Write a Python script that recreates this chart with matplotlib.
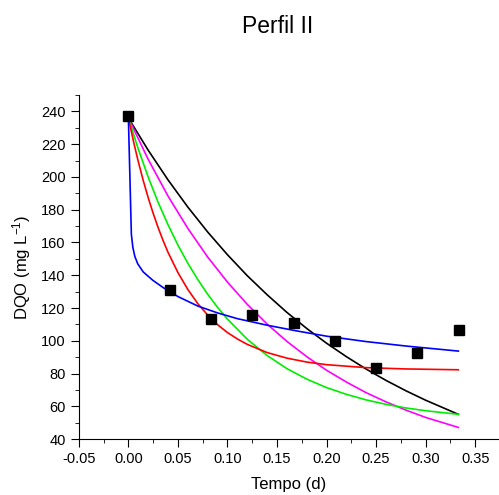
import matplotlib
matplotlib.use("Agg")
import matplotlib.pyplot as plt
from matplotlib.ticker import MultipleLocator

plt.rcParams["font.family"] = ["Liberation Sans", "DejaVu Sans"]
plt.rcParams["mathtext.default"] = "regular"

# measured DQO values
t_obs = [0.0, 0.0417, 0.0833, 0.125, 0.1667, 0.2083, 0.25, 0.2917, 0.3333]
dqo_obs = [237.0, 131.0, 113.0, 115.5, 111.0, 100.0, 83.5, 92.5, 106.5]

# fitted curves
t_black = [0.0, 0.02, 0.04, 0.06, 0.08, 0.10, 0.12, 0.14, 0.16, 0.18,
           0.20, 0.22, 0.24, 0.26, 0.28, 0.30, 0.333]
dqo_black = [236.0, 216.3, 198.2, 181.6, 166.4, 152.5, 139.7, 128.1, 117.3, 107.5,
             98.5, 90.3, 82.7, 75.8, 69.5, 63.7, 55.1]

t_magenta = [0.0, 0.02, 0.04, 0.06, 0.08, 0.10, 0.12, 0.14, 0.16, 0.18,
             0.20, 0.22, 0.24, 0.26, 0.28, 0.30, 0.333]
dqo_magenta = [236.0, 210.7, 188.3, 168.6, 151.1, 135.8, 122.2, 110.2, 99.6, 90.3,
               82.0, 74.8, 68.3, 62.7, 57.7, 53.2, 47.1]

t_green = [0.0, 0.01, 0.02, 0.03, 0.04, 0.05, 0.06, 0.07, 0.08, 0.09, 0.10, 0.12, 0.14,
           0.16, 0.18, 0.20, 0.22, 0.24, 0.26, 0.28, 0.30, 0.333]
dqo_green = [236.0, 217.0, 199.9, 184.5, 170.8, 158.4, 147.3, 137.4, 128.4, 120.4, 113.2,
             100.9, 91.0, 83.0, 76.6, 71.4, 67.3, 63.9, 61.2, 59.0, 57.3, 55.1]

t_red = [0.0, 0.005, 0.01, 0.015, 0.02, 0.025, 0.03, 0.035, 0.04, 0.05, 0.06, 0.07,
         0.08, 0.09, 0.10, 0.11, 0.12, 0.14, 0.16, 0.18, 0.20, 0.24, 0.28, 0.333]
dqo_red = [236.0, 222.1, 209.3, 197.8, 187.3, 177.8, 169.1, 161.2, 154.0, 141.6, 131.3,
           122.7, 115.7, 109.8, 105.0, 101.1, 97.8, 92.8, 89.4, 87.0, 85.4, 83.6, 82.8, 82.3]

t_blue = [0.0, 0.003, 0.0045, 0.0065, 0.0094, 0.015, 0.0245, 0.035, 0.05, 0.07,
          0.09, 0.11, 0.14, 0.17, 0.20, 0.24, 0.28, 0.333]
dqo_blue = [236.0, 165.0, 157.0, 151.5, 147.0, 142.0, 137.0, 132.5, 127.0, 121.2,
            117.0, 113.5, 109.5, 106.0, 102.8, 99.5, 96.8, 93.7]


def main():
    fig = plt.figure(figsize=(4.99, 4.95), dpi=100)
    ax = fig.add_axes([0.158, 0.113, 0.842, 0.695])

    ax.plot(t_black, dqo_black, color="black", lw=1.2)
    ax.plot(t_magenta, dqo_magenta, color="magenta", lw=1.2)
    ax.plot(t_green, dqo_green, color="#00ee00", lw=1.2)
    ax.plot(t_red, dqo_red, color="red", lw=1.2)
    ax.plot(t_blue, dqo_blue, color="blue", lw=1.2)
    ax.plot(t_obs, dqo_obs, "s", color="black", ms=7, zorder=5, clip_on=False)

    ax.set_xlim(-0.05, 0.374)
    ax.set_ylim(40, 250)
    ax.xaxis.set_major_locator(MultipleLocator(0.05))
    ax.xaxis.set_minor_locator(MultipleLocator(0.025))
    ax.yaxis.set_major_locator(MultipleLocator(20))
    ax.yaxis.set_minor_locator(MultipleLocator(10))
    ax.xaxis.set_major_formatter(plt.FuncFormatter(lambda v, p: f"{v:.2f}"))

    ax.spines["top"].set_visible(False)
    ax.spines["right"].set_visible(False)
    ax.tick_params(which="major", direction="out", length=6, labelsize=10.5)
    ax.tick_params(which="minor", direction="out", length=3)

    ax.set_xlabel("Tempo (d)", fontsize=12, labelpad=8)
    ax.set_ylabel("DQO (mg L$^{-1}$)", fontsize=12, labelpad=6)
    fig.text(0.557, 0.947, "Perfil II", fontsize=16.5, ha="center", va="center")

    fig.savefig("out.png", dpi=100)
    plt.close(fig)


if __name__ == "__main__":
    main()
